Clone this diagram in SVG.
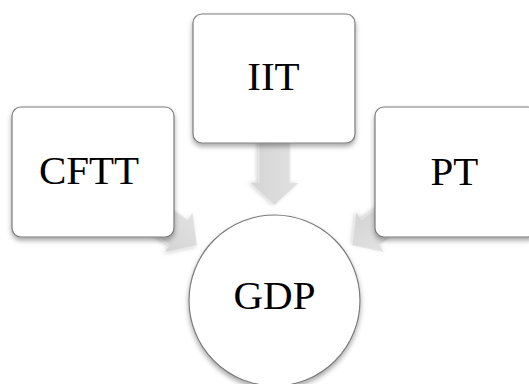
<svg xmlns="http://www.w3.org/2000/svg" width="529" height="384" viewBox="0 0 529 384">
  <style>
    .box { fill: #ffffff; stroke: #7a7a7a; stroke-width: 1.2; filter: url(#shadow); }
    .arrow { fill: url(#arrowGrad); filter: url(#ashadow); }
    .label { font-family: "Liberation Serif", "Times New Roman", serif; font-size: 41px; fill: #000000; text-anchor: middle; }
  </style>
  <defs>
    <filter id="shadow" x="-20%" y="-20%" width="140%" height="150%">
      <feDropShadow dx="0" dy="3" stdDeviation="2.5" flood-color="#000000" flood-opacity="0.35"/>
    </filter>
    <filter id="ashadow" x="-30%" y="-30%" width="160%" height="160%">
      <feDropShadow dx="0" dy="2" stdDeviation="2" flood-color="#000000" flood-opacity="0.2"/>
    </filter>
    <linearGradient id="arrowGrad" x1="0" y1="0" x2="0" y2="1">
      <stop offset="0" stop-color="#e2e2e2"/>
      <stop offset="1" stop-color="#d4d4d4"/>
    </linearGradient>
    <polygon id="blockArrow" points="-80,-15.5 -22,-15.5 -22,-24 0,0 -22,24 -22,15.5 -80,15.5"/>
  </defs>
  <rect width="529" height="384" fill="#ffffff"/>
  <g id="connectors">
    <use href="#blockArrow" class="arrow" transform="translate(274.5,205) rotate(90)"/>
    <use href="#blockArrow" class="arrow" transform="translate(196.7,245.2) rotate(35.4)"/>
    <use href="#blockArrow" class="arrow" transform="translate(352.3,245.2) rotate(144.6)"/>
  </g>
  <g id="node-GDP">
    <circle class="box" cx="274.5" cy="300.5" r="85.5"/>
    <text class="label" x="274.5" y="309">GDP</text>
  </g>
  <g id="node-CFTT">
    <rect class="box" x="12" y="107" width="162" height="130" rx="9" ry="9"/>
    <text class="label" x="89" y="184">CFTT</text>
  </g>
  <g id="node-IIT">
    <rect class="box" x="193" y="14" width="162" height="129" rx="9" ry="9"/>
    <text class="label" x="273.5" y="89.5">IIT</text>
  </g>
  <g id="node-PT">
    <rect class="box" x="375" y="107" width="162" height="130" rx="9" ry="9"/>
    <text class="label" x="454.5" y="185">PT</text>
  </g>
</svg>
